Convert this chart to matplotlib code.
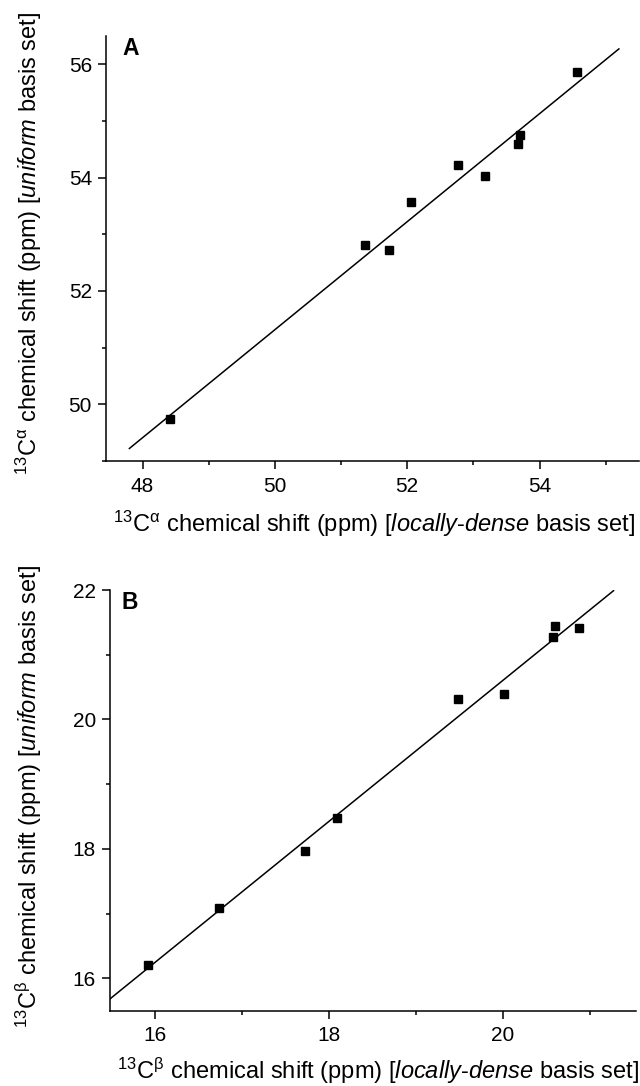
"""
chemical shift comparison: locally-dense vs uniform basis set
"""
import numpy as np
import matplotlib.pyplot as plt
from matplotlib.ticker import MultipleLocator
# ------------------------Data--------------------------------------------------
# panel A : 13C alpha
ca_local = [48.42, 51.36, 51.72, 52.06, 52.77, 53.18, 53.67, 53.70, 54.57]
ca_uniform = [49.74, 52.81, 52.72, 53.57, 54.22, 54.03, 54.59, 54.75, 55.86]
# panel B : 13C beta
cb_local = [15.92, 16.73, 17.72, 18.09, 19.48, 20.01, 20.57, 20.60, 20.87]
cb_uniform = [16.21, 17.08, 17.97, 18.48, 20.31, 20.39, 21.27, 21.44, 21.41]
# ------------------------Style-------------------------------------------------
plt.rcParams['font.family'] = ['Liberation Sans', 'DejaVu Sans']
plt.rcParams['mathtext.fontset'] = 'custom'
plt.rcParams['mathtext.rm'] = 'Liberation Sans'
plt.rcParams['mathtext.it'] = 'Liberation Sans:italic'
plt.rcParams['mathtext.bf'] = 'Liberation Sans:bold'
fs_tick = 15
fs_lab = 17
# ------------------------------------------------------------------------------
def panel(ax, x, y, xfit, xlim, ylim, letter, greek, lpos, xlpos, ylpos):
    k, b = np.polyfit(x, y, 1)
    xf = np.array(xfit)
    ax.plot(xf, k*xf + b, color='black', lw=1.1)
    ax.plot(x, y, ls='none', marker='s', ms=6, color='black')
    ax.set_xlim(xlim)
    ax.set_ylim(ylim)
    ax.xaxis.set_major_locator(MultipleLocator(2))
    ax.xaxis.set_minor_locator(MultipleLocator(1))
    ax.yaxis.set_major_locator(MultipleLocator(2))
    ax.yaxis.set_minor_locator(MultipleLocator(1))
    for s in ['top', 'right']:
        ax.spines[s].set_visible(False)
    for s in ['left', 'bottom']:
        ax.spines[s].set_linewidth(1.1)
    ax.tick_params(which='major', direction='out', length=5.8, width=1.1,
                   labelsize=fs_tick)
    ax.tick_params(axis='x', which='major', pad=5.5)
    ax.tick_params(axis='y', which='major', pad=4.5)
    ax.tick_params(which='minor', direction='out', length=3, width=1.1)
    ax.text(lpos[0], lpos[1], letter, transform=ax.transAxes, fontsize=16.5,
            fontweight='bold', va='top', ha='left')
    ax.set_xlabel(r'$^{\mathrm{13}}$C$^{\mathrm{%s}}$ chemical shift (ppm) [$\it{locally}$-$\it{dense}$ basis set]' % greek,
                  fontsize=fs_lab)
    ax.set_ylabel(r'$^{\mathrm{13}}$C$^{\mathrm{%s}}$ chemical shift (ppm) [$\it{uniform}$ basis set]' % greek,
                  fontsize=fs_lab)
    ax.xaxis.set_label_coords(xlpos[0], xlpos[1])
    ax.yaxis.set_label_coords(ylpos[0], ylpos[1])

fig = plt.figure(figsize=(6.4, 10.86), dpi=100)
axA = fig.add_axes([0.166, 0.5755, 0.832, 0.3914])
axB = fig.add_axes([0.172, 0.0693, 0.822, 0.3874])

panel(axA, ca_local, ca_uniform, [47.8, 55.2], (47.45, 55.5), (49.0, 56.5), 'A', 'α',
      (0.030, 0.998), (0.503, -0.112), (-0.117, 0.513))
panel(axB, cb_local, cb_uniform, [15.48, 21.27], (15.48, 21.53), (15.5, 22.0), 'B', 'β',
      (0.022, 0.998), (0.509, -0.106), (-0.126, 0.509))

plt.savefig('out.png', dpi=100)
# ------------------------------------------------------------------------------
